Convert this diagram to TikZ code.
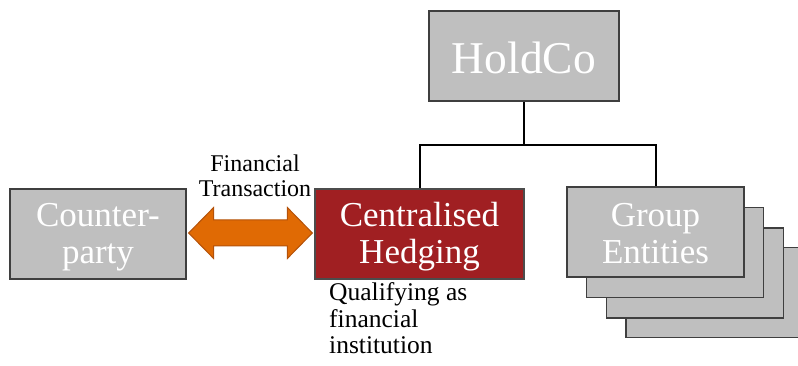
\documentclass[tikz,border=0pt]{standalone}
\usepackage{fontspec}
\setmainfont{Liberation Serif}
\usetikzlibrary{calc}
\definecolor{boxgrey}{HTML}{BFBFBF}
\definecolor{edgegrey}{HTML}{3F3F3F}
\definecolor{hedgered}{HTML}{A01F22}
\definecolor{arroworange}{HTML}{E06A04}
\definecolor{arrowedge}{HTML}{B4520A}
\tikzset{
  greybox/.style={draw=edgegrey, line width=1.3pt, fill=boxgrey, inner sep=0pt},
  redbox/.style={draw=black!70, line width=1.3pt, fill=hedgered, inner sep=0pt},
  boxtext/.style={inner sep=0pt, text=white, align=center, font=\fontsize{35}{37}\selectfont},
  stackbox/.style={draw=edgegrey, line width=1.3pt, fill=boxgrey, inner sep=0pt, minimum width=177pt, minimum height=90pt},
  smalltxt/.style={inner sep=0pt, text=black, font=\fontsize{24}{25}\selectfont},
  notetxt/.style={inner sep=0pt, text=black, font=\fontsize{25.5}{26}\selectfont},
  treeline/.style={draw=black, line width=2pt},
}
\begin{document}
\begin{tikzpicture}[x=1pt,y=-1pt]
\useasboundingbox (0,0) rectangle (798,366);
\clip (0,0) rectangle (798,366);
% HoldCo
\node[greybox, minimum width=190pt, minimum height=90pt] (hc) at (524,56) {};
\node[boxtext, font=\fontsize{45.5}{47}\selectfont] (hct) at ($(hc.center)+(0,2)$) {HoldCo};
% Counterparty
\node[greybox, minimum width=176pt, minimum height=90pt] (cp) at (98,234) {};
\node[boxtext] (cpt) at ($(cp.center)+(0,3)$) {Counter-\\party};
% Centralised Hedging
\node[redbox, minimum width=209pt, minimum height=90pt] (ch) at (419.5,234) {};
\node[boxtext] (cht) at ($(ch.center)+(0,3)$) {Centralised\\Hedging};
% Group entities stack (back to front)
\node[stackbox] (ge4) at (714.5,292.5) {};
\node[stackbox] (ge3) at (695,273) {};
\node[stackbox] (ge2) at (675,252.5) {};
\node[greybox, minimum width=177pt, minimum height=90pt] (ge) at (655.5,232) {};
\node[boxtext] (get) at ($(ge.center)+(0,2)$) {Group\\Entities};
% tree connectors
\coordinate (j) at ($(hc.south)+(0,43)$);
\draw[treeline] (hc.south) -- (j);
\draw[treeline] (j) -| (ch.north);
\draw[treeline] (j) -| (ge.north);
% double arrow between counterparty and centralised hedging
\coordinate (al) at ($(cp.east)+(2,-1)$);
\coordinate (ar) at ($(ch.west)+(-2,-1)$);
\draw[fill=arroworange, draw=arrowedge, line width=1pt, line join=miter]
  (al) -- ($(al)+(25,-25.5)$) -- ($(al)+(25,-13)$) -- ($(ar)+(-25,-13)$) -- ($(ar)+(-25,-25.5)$)
  -- (ar) -- ($(ar)+(-25,25.5)$) -- ($(ar)+(-25,13)$) -- ($(al)+(25,13)$) -- ($(al)+(25,25.5)$) -- cycle;
% labels
\node[smalltxt, anchor=base] (fin1) at (255,172) {Financial};
\node[smalltxt, anchor=base] (fin2) at (255,197) {Transaction};
\node[notetxt, anchor=base west] (q1) at (329,300) {Qualifying as};
\node[notetxt, anchor=base west] (q2) at (329,327) {financial};
\node[notetxt, anchor=base west] (q3) at (329,353) {institution};
\end{tikzpicture}
\end{document}
